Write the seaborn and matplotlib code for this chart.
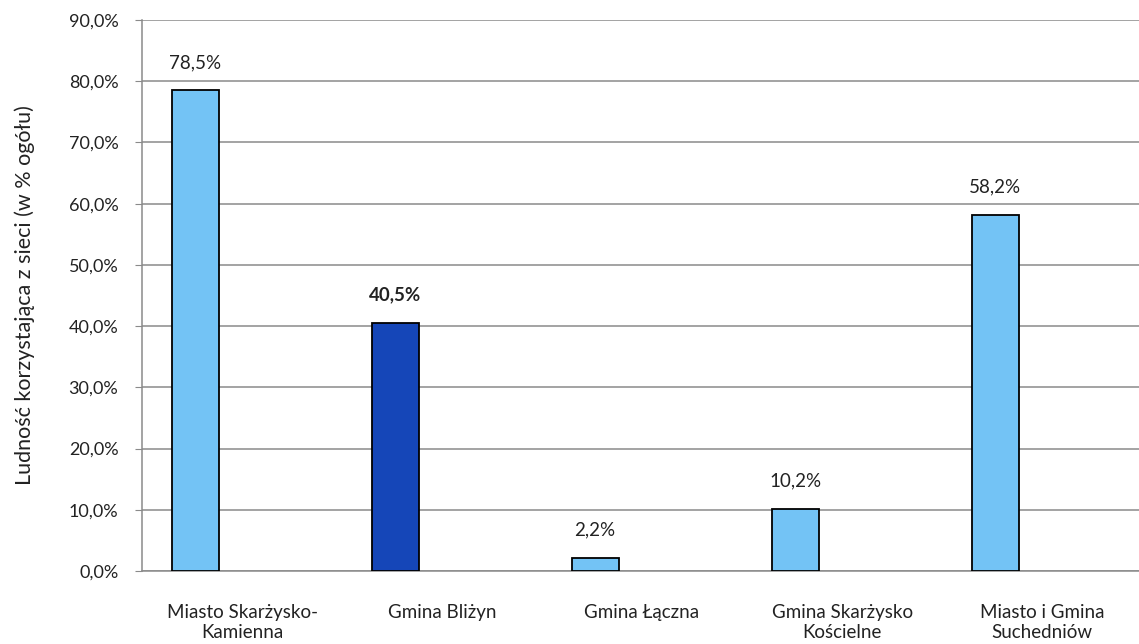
import numpy as np
import pandas as pd
import matplotlib
matplotlib.use("Agg")
import matplotlib.pyplot as plt
import seaborn as sns
from matplotlib.ticker import FuncFormatter, MultipleLocator, FixedLocator

# ---------------------------------------------------------------------------
# Data
# ---------------------------------------------------------------------------
categories = [
    "Miasto Skarżysko-\nKamienna",
    "Gmina Bliżyn",
    "Gmina Łączna",
    "Gmina Skarżysko\nKościelne",
    "Miasto i Gmina\nSuchedniów",
]
values = [78.5, 40.5, 2.2, 10.2, 58.2]
highlight = "Gmina Bliżyn"

# Excel chart kept room for three series, only the first one is filled
series_order = ["s1", "s2", "s3"]

LIGHT = "#73c3f5"
DARK = "#1546b8"

n = len(categories)
df = pd.DataFrame({
    "kategoria": categories * 3,
    "wartosc": values + [0.0] * n * 2,
    "seria": ["s1"] * n + ["s2"] * n + ["s3"] * n,
})

sns.set_style("white")
plt.rcParams["font.family"] = ["Lato", "DejaVu Sans"]

fig = plt.figure(figsize=(11.39, 6.44), dpi=100)
ax = fig.add_axes([0.1247, 0.1134, 0.878, 0.8556])

sns.barplot(
    data=df, x="kategoria", y="wartosc", hue="seria", hue_order=series_order,
    order=categories, palette=[LIGHT, LIGHT, LIGHT], width=0.705, saturation=1,
    edgecolor="black", linewidth=1.3, legend=False, ax=ax, zorder=3,
)

bars = ax.patches[:n]
# Empty placeholder series stay invisible
for patch in ax.patches[n:]:
    patch.set_visible(False)

# Recolour the highlighted municipality
for patch, cat in zip(bars, categories):
    if cat == highlight:
        patch.set_facecolor(DARK)

# Value labels above bars
for patch, cat, val in zip(bars, categories, values):
    txt = f"{val:.1f}%".replace(".", ",")
    ax.annotate(
        txt, (patch.get_x() + patch.get_width() / 2, patch.get_height()),
        xytext=(0, 14), textcoords="offset points", ha="center", va="bottom",
        fontsize=13.5, color="#222222",
        fontweight="bold" if cat == highlight else "normal",
    )

ax.set_xlim(-0.5, n - 0.5)
ax.set_ylim(0, 90)
ax.yaxis.set_major_locator(MultipleLocator(10))
ax.yaxis.set_major_formatter(FuncFormatter(lambda v, _: f"{v:.1f}%".replace(".", ",")))
ax.yaxis.grid(True, color="#8a8a8a", linewidth=1.1, zorder=0)
ax.set_axisbelow(True)

# Tick marks at category boundaries, labels at centres
ax.xaxis.set_minor_locator(FixedLocator(np.arange(-0.5, n, 1.0)))
ax.tick_params(axis="x", which="major", length=0, pad=24, labelsize=13.5, labelcolor="#222222")
ax.tick_params(axis="x", which="minor", length=5, color="#8a8a8a", direction="out")
ax.tick_params(axis="y", length=5, color="#8a8a8a", direction="out", pad=12,
               labelsize=13, labelcolor="#222222", left=True)

for side in ["top", "right"]:
    ax.spines[side].set_visible(False)
for side in ["left", "bottom"]:
    ax.spines[side].set_color("#8a8a8a")
    ax.spines[side].set_linewidth(1.1)

ax.set_xlabel("")
ax.set_ylabel("Ludność korzystająca z sieci (w % ogółu)", fontsize=15.5, color="#222222", labelpad=24)

fig.savefig("out.png", dpi=100)
plt.close(fig)
